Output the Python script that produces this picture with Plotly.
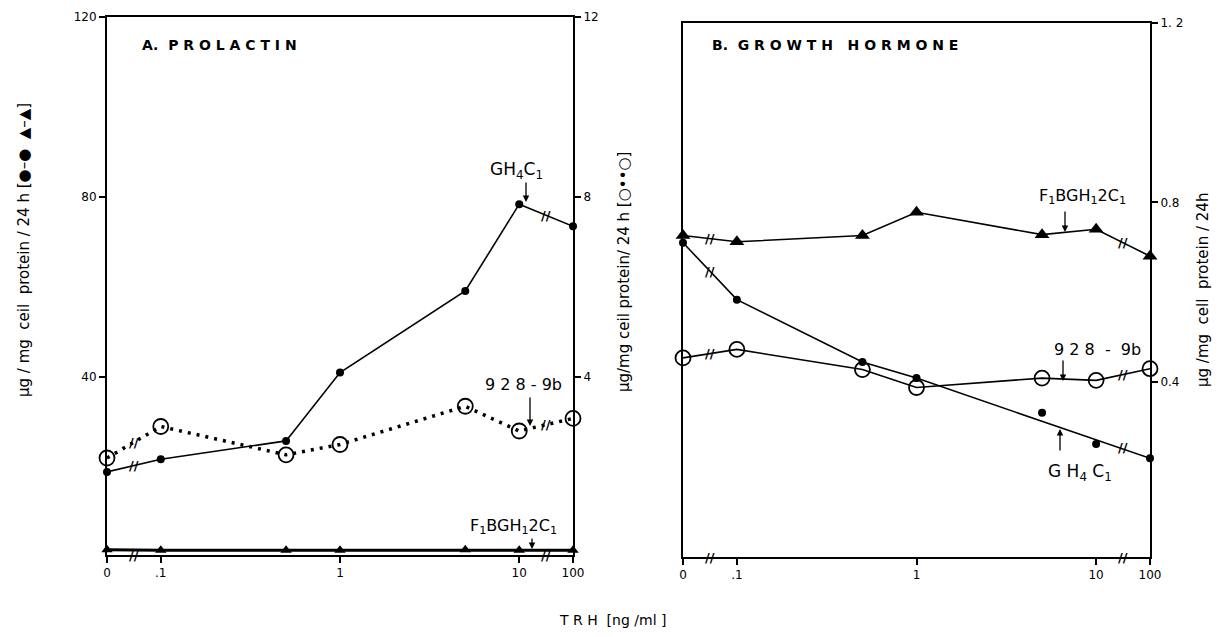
import math
import plotly.graph_objects as go

# ---------------- data ----------------
doses = [0, 0.1, 0.5, 1, 5, 10, 100]          # TRH ng/ml
tick_doses = [0, 0.1, 1, 10, 100]
tick_labels = ["0", ".1", "1", "10", "100"]

# Panel A: prolactin
prl_gh4c1 = [18.9, 21.7, 25.8, 41.0, 59.1, 78.4, 73.5]   # left axis (0-120)
prl_f1b = [1.6, 1.5, 1.5, 1.5, 1.6, 1.5, 1.5]            # left axis (0-120)
prl_928 = [2.2, 2.9, 2.27, 2.5, 3.35, 2.8, 3.08]         # right axis (0-12)

# Panel B: growth hormone (0-1.2)
gh_gh4c1 = [0.71, 0.583, 0.444, 0.408, 0.331, 0.261, 0.229]
gh_gh4c1_fit_doses = [0, 0.1, 0.5, 1, 100]
gh_gh4c1_fit = [0.71, 0.583, 0.444, 0.408, 0.229]
gh_928 = [0.453, 0.472, 0.427, 0.387, 0.408, 0.403, 0.429]
gh_f1b = [0.726, 0.712, 0.726, 0.778, 0.728, 0.74, 0.68]

left_ticks = [40, 80, 120]
mid_ticks = [4, 8, 12]
right_ticks = [0.4, 0.8, 1.2]
right_tick_text = ["0.4", "0.8", "1. 2"]

# ------------- broken log axis -------------
BREAK = 0.3


def xpos(v):
    if v == 0:
        return -1 - BREAK
    if v >= 100:
        return 1 + BREAK
    return math.log10(v)


def xs(vals):
    return [xpos(v) for v in vals]


# page has an 8px body margin: figure sized to fit the window exactly
OFF = 8
W, H = 1225 - 2 * OFF, 637 - 2 * OFF
FONT = "DejaVu Sans"


def px(x):
    return (x - OFF) / W


def py(y):
    return 1 - (y - OFF) / H


fig = go.Figure()

line_k = dict(color="black", width=1.6)

# Panel A
fig.add_trace(go.Scatter(x=xs(doses), y=prl_gh4c1, xaxis="x", yaxis="y", mode="lines+markers",
                         line=line_k, marker=dict(symbol="circle", size=8, color="black"),
                         cliponaxis=False, name="GH4C1"))
fig.add_trace(go.Scatter(x=xs(doses), y=prl_f1b, xaxis="x", yaxis="y", mode="lines+markers",
                         line=dict(color="black", width=3), marker=dict(symbol="triangle-up", size=10, color="black"),
                         cliponaxis=False, name="F1BGH12C1"))
fig.add_trace(go.Scatter(x=xs(doses), y=prl_928, xaxis="x", yaxis="y2", mode="lines+markers",
                         line=dict(color="black", width=3.5, dash="3px,6px"),
                         marker=dict(symbol="circle-open", size=15, color="black", line=dict(width=1.8)),
                         cliponaxis=False, name="928-9b"))

# Panel B
fig.add_trace(go.Scatter(x=xs(gh_gh4c1_fit_doses), y=gh_gh4c1_fit, xaxis="x2", yaxis="y3", mode="lines",
                         line=line_k, cliponaxis=False, name="GH4C1 line"))
fig.add_trace(go.Scatter(x=xs(doses), y=gh_gh4c1, xaxis="x2", yaxis="y3", mode="markers",
                         marker=dict(symbol="circle", size=8, color="black"),
                         cliponaxis=False, name="GH4C1"))
fig.add_trace(go.Scatter(x=xs(doses), y=gh_928, xaxis="x2", yaxis="y3", mode="lines+markers",
                         line=line_k,
                         marker=dict(symbol="circle-open", size=15, color="black", line=dict(width=1.8)),
                         cliponaxis=False, name="928-9b"))
fig.add_trace(go.Scatter(x=xs(doses), y=gh_f1b, xaxis="x2", yaxis="y3", mode="lines+markers",
                         line=line_k, marker=dict(symbol="triangle-up", size=13, color="black"),
                         cliponaxis=False, name="F1BGH12C1"))

axis_common = dict(showline=True, linewidth=2, linecolor="black", showgrid=False, zeroline=False,
                   automargin=False,
                   ticks="outside", tickwidth=1.5, tickcolor="black", ticklen=6,
                   tickfont=dict(family=FONT, size=12, color="black"))

dom_a = [px(107), px(573)]
dom_b = [px(683), px(1150)]
ydom_a = [py(555), py(17)]
ydom_b = [py(557), py(23)]

fig.update_layout(
    width=W, height=H, margin=dict(l=0, r=0, t=0, b=0, pad=0), autosize=False,
    paper_bgcolor="white", plot_bgcolor="white", showlegend=False,
    xaxis=dict(domain=dom_a, range=[-1 - BREAK, 1 + BREAK], anchor="y", mirror=True,
               tickvals=xs(tick_doses), ticktext=tick_labels, **axis_common),
    yaxis=dict(domain=ydom_a, range=[0.44, 120], anchor="x", side="left",
               tickvals=left_ticks, ticktext=[str(t) for t in left_ticks], **axis_common),
    yaxis2=dict(domain=ydom_a, range=[0.044, 12], anchor="x", overlaying="y", side="right",
                tickvals=mid_ticks, ticktext=[str(t) for t in mid_ticks], **axis_common),
    xaxis2=dict(domain=dom_b, range=[-1 - BREAK, 1 + BREAK], anchor="y3", mirror=True,
                tickvals=xs(tick_doses), ticktext=tick_labels, **axis_common),
    yaxis3=dict(domain=ydom_b, range=[0.009, 1.2], anchor="x2", side="right", mirror=True,
                tickvals=right_ticks, ticktext=right_tick_text, **axis_common),
)

ann = []


def txt(x, y, text, size=15, angle=0, xanchor="center", bold=False):
    t = f"<b>{text}</b>" if bold else text
    ann.append(dict(x=px(x), y=py(y), xref="paper", yref="paper", text=t, showarrow=False,
                    textangle=angle, xanchor=xanchor, yanchor="middle",
                    font=dict(family=FONT, size=size, color="black")))


def arrow(x, y_tip, y_tail):
    ann.append(dict(x=px(x), y=py(y_tip), xref="paper", yref="paper", text="", showarrow=True,
                    ax=0, ay=y_tail - y_tip, arrowhead=2, arrowsize=1, arrowwidth=1.3,
                    arrowcolor="black", font=dict(size=10)))


def brk(xref, yref, x, y, size=13):
    ann.append(dict(x=x, y=y, xref=xref, yref=yref, text="<b>//</b>", showarrow=False,
                    font=dict(family=FONT, size=size, color="black")))


# break marks on series and axes (midpoints of the broken segments)
def series_breaks(xref, yref, vals):
    brk(xref, yref, (xpos(doses[0]) + xpos(doses[1])) / 2, (vals[0] + vals[1]) / 2)
    brk(xref, yref, (xpos(doses[-2]) + xpos(doses[-1])) / 2, (vals[-2] + vals[-1]) / 2)


series_breaks("x", "y", prl_gh4c1)
series_breaks("x", "y2", prl_928)
series_breaks("x", "y", [0.44] * 7)
series_breaks("x2", "y3", gh_928)
series_breaks("x2", "y3", gh_f1b)
series_breaks("x2", "y3", [0.009] * 7)
brk("x2", "y3", (xpos(doses[0]) + xpos(doses[1])) / 2, (gh_gh4c1[0] + gh_gh4c1[1]) / 2)
brk("x2", "y3", (xpos(doses[-2]) + xpos(doses[-1])) / 2,
    gh_gh4c1_fit[-2] + (gh_gh4c1_fit[-1] - gh_gh4c1_fit[-2]) * 0.87)

# panel titles
txt(140, 45, "A.  P R O L A C T I N", size=14, xanchor="left", bold=True)
txt(710, 45, "B.  G R O W T H   H O R M O N E", size=14, xanchor="left", bold=True)

# curve labels
txt(517, 170, "GH<sub>4</sub>C<sub>1</sub>", size=17)
arrow(526, 202, 181)
txt(523, 384, "9 2 8 - 9b", size=16)
arrow(530, 426, 396)
txt(513, 526, "F<sub>1</sub>BGH<sub>1</sub>2C<sub>1</sub>", size=16)
arrow(532, 549, 537)

txt(1082, 196, "F<sub>1</sub>BGH<sub>1</sub>2C<sub>1</sub>", size=16)
arrow(1065, 232, 210)
txt(1097, 349, "9 2 8  -  9b", size=16)
arrow(1063, 381, 359)
txt(1080, 472, "G H<sub>4</sub> C<sub>1</sub>", size=17)
arrow(1060, 429, 452)

# axis titles
txt(24, 250, "μg / mg  ceil  protein / 24 h [●–●  ▲–▲]", size=15, angle=-90)
txt(624, 272, "μg/mg ceil protein/ 24 h [○••○]", size=15, angle=-90)
txt(1203, 290, "μg /mg  cell  protein / 24h", size=15, angle=-90)
txt(612, 620, "T R H  [ng /ml ]", size=14)

fig.update_layout(annotations=ann)
fig.write_html("out.html")
